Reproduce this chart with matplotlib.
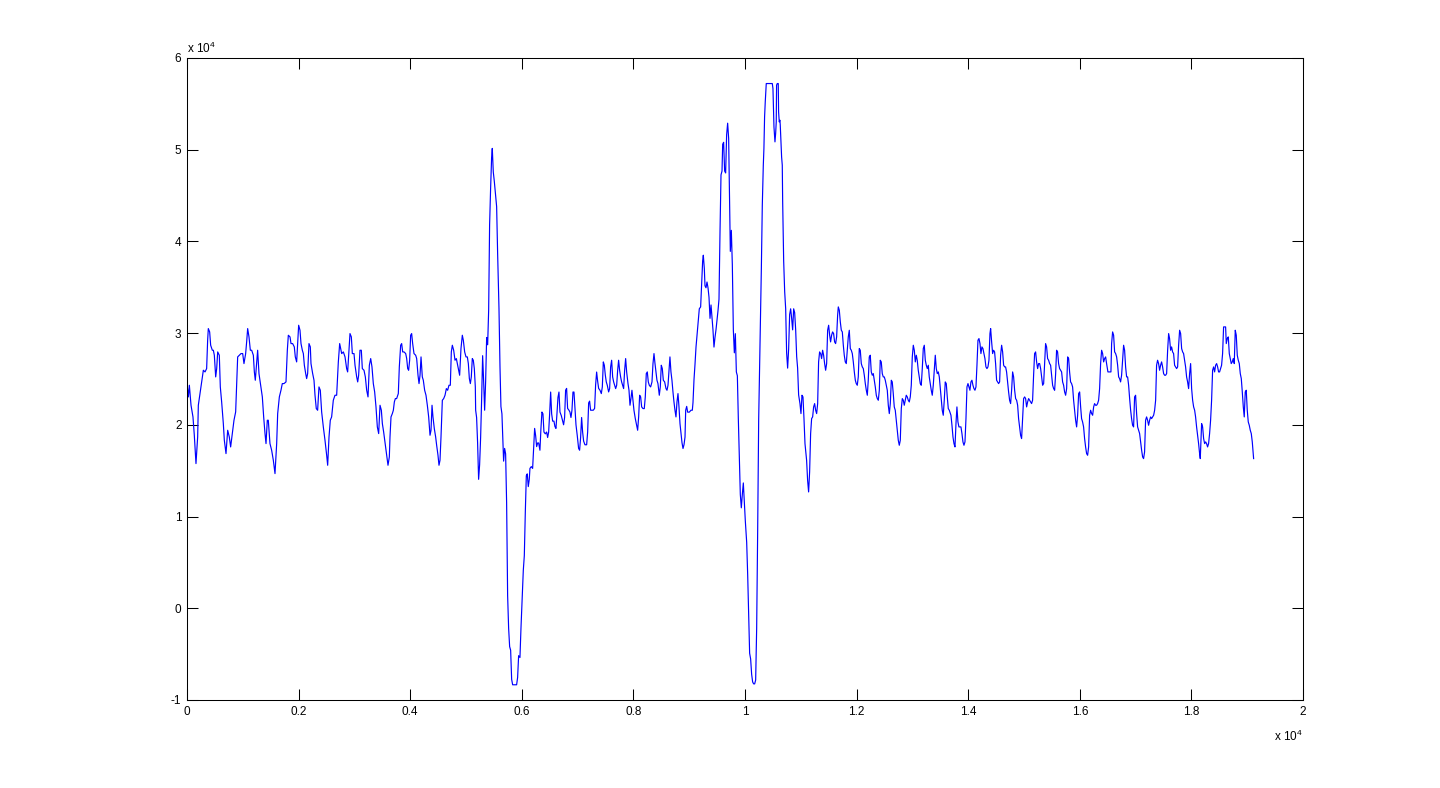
import matplotlib
matplotlib.use('Agg')
import matplotlib.pyplot as plt

plt.rcParams['font.family'] = ['Liberation Sans', 'DejaVu Sans']
plt.rcParams['mathtext.fontset'] = 'custom'
plt.rcParams['mathtext.rm'] = 'Liberation Sans'
plt.rcParams['mathtext.it'] = 'Liberation Sans'

# ---- data (sample index, signal value) ----
sample_index = [
    0, 24, 42, 72, 107, 131, 161, 191, 203, 233, 263, 293, 323, 352, 370, 382, 406, 424, 454, 472,
    490, 514, 532, 550, 579, 597, 621, 651, 669, 699, 729, 758, 782, 812, 842, 872, 890, 908, 938, 968,
    998, 1021, 1051, 1069, 1087, 1111, 1135, 1159, 1189, 1207, 1224, 1242, 1266, 1290, 1320, 1350, 1374, 1398, 1416, 1439,
    1457, 1487, 1517, 1547, 1577, 1607, 1625, 1655, 1684, 1708, 1738, 1774, 1798, 1816, 1846, 1864, 1893, 1923, 1941, 1965,
    1983, 2001, 2025, 2043, 2067, 2085, 2103, 2127, 2144, 2162, 2186, 2210, 2222, 2252, 2276, 2294, 2317, 2341, 2365, 2389,
    2413, 2443, 2473, 2503, 2521, 2545, 2568, 2592, 2622, 2652, 2682, 2712, 2736,
    2772, 2802, 2832, 2861, 2879, 2897, 2921, 2945, 2963, 2993, 3011, 3041, 3059, 3076, 3100, 3124, 3142, 3172, 3196, 3220,
    3244, 3268, 3292, 3315, 3339, 3363, 3387, 3411, 3435, 3459, 3483, 3501, 3524, 3548, 3578, 3602, 3626, 3638, 3656, 3680,
    3698, 3716, 3734, 3757, 3787, 3805, 3829, 3847, 3865, 3889, 3919, 3937, 3955, 3972, 3990, 4008, 4026, 4044, 4068, 4098,
    4116, 4140, 4158, 4176, 4194, 4217, 4235, 4259, 4283, 4307, 4331, 4355, 4373, 4391, 4408, 4432, 4456, 4474, 4498, 4516,
    4534, 4552, 4576, 4600, 4624, 4648, 4671, 4695, 4719, 4737, 4755, 4779, 4803, 4827, 4845, 4863, 4886, 4910, 4934, 4952,
    4976, 5000, 5024, 5042, 5060, 5078, 5095, 5113, 5131, 5149, 5167,
    5173, 5190, 5208, 5226, 5244, 5262, 5280, 5298, 5316, 5334, 5352, 5370, 5388, 5406, 5423, 5441, 5459, 5471, 5489, 5507,
    5525, 5549, 5567, 5591, 5609, 5626, 5644, 5662, 5674, 5692, 5710, 5728, 5746, 5764, 5782, 5800, 5818, 5836, 5907, 5925,
    5943, 5967, 5985, 6009, 6027, 6045, 6063, 6081, 6098, 6116, 6134, 6146, 6170, 6194, 6212, 6230, 6248, 6266, 6284, 6302,
    6325, 6343, 6361, 6379, 6397, 6421, 6445, 6463, 6481, 6499, 6517, 6535, 6553, 6576, 6594, 6612, 6630, 6648, 6666, 6684,
    6708, 6732, 6749, 6767, 6785, 6803, 6821, 6845, 6863, 6881, 6899, 6917, 6935, 6953, 6971, 6994, 7018, 7036, 7054, 7072,
    7090, 7108, 7132, 7162, 7180, 7198, 7215, 7233, 7257, 7281, 7305, 7323, 7341, 7359, 7377, 7401,
    7425, 7443, 7461, 7479, 7497, 7514, 7532, 7556, 7574, 7592, 7610, 7628, 7646, 7664, 7682, 7700, 7718, 7735, 7753, 7771,
    7789, 7807, 7825, 7843, 7861, 7879, 7903, 7921, 7939, 7956, 7974, 7992, 8010, 8034, 8058, 8076, 8094, 8112, 8130, 8148,
    8172, 8195, 8213, 8231, 8249, 8267, 8285, 8309, 8333, 8351, 8369, 8387, 8404, 8422, 8440, 8464, 8482, 8500, 8518, 8536,
    8560, 8584, 8602, 8620, 8637, 8655, 8673, 8691, 8709, 8727, 8745, 8763, 8781, 8799, 8817,
    8835, 8853, 8871, 8889, 8907, 8925, 8937, 8955, 8972, 9002, 9032, 9056, 9068, 9086, 9104, 9122, 9140, 9164, 9181, 9205,
    9223, 9241, 9253, 9271, 9283, 9301, 9319, 9337, 9355, 9373, 9391, 9409, 9426, 9444, 9462, 9480, 9498, 9516, 9534, 9552,
    9570, 9588, 9600, 9617, 9635, 9653, 9671, 9689, 9707, 9725, 9737, 9755, 9773, 9791, 9809, 9827, 9845, 9863, 9880, 9898,
    9916, 9934, 9952, 9970, 9988, 10006, 10030, 10048, 10066, 10083, 10101, 10119, 10137, 10155, 10173, 10191, 10209, 10227, 10245, 10263,
    10275, 10293, 10310,
    10328, 10339, 10351, 10363, 10381, 10430, 10489, 10501, 10519, 10537, 10549, 10560, 10566, 10578, 10596, 10602, 10614, 10626, 10632, 10644,
    10656, 10668,
    10675, 10693, 10711, 10729, 10746, 10764, 10782, 10800, 10818, 10836, 10854, 10872, 10890, 10908, 10926, 10943, 10961,
    10985, 11003, 11021, 11039, 11057, 11075, 11093, 11104, 11122, 11140, 11158, 11176, 11194, 11212, 11230, 11248, 11266, 11284, 11302, 11319,
    11337, 11355, 11373, 11391, 11409, 11427, 11445, 11463, 11481, 11499, 11517, 11534, 11552, 11570, 11588, 11606, 11624, 11642, 11660, 11672,
    11690, 11708, 11726, 11744, 11762, 11779, 11797, 11815, 11833, 11851, 11869, 11887, 11905, 11923, 11941, 11959, 11977, 11994, 12012, 12030,
    12048, 12066, 12084, 12102, 12120, 12138, 12156, 12174, 12192, 12209, 12227, 12245, 12263, 12281, 12299, 12317, 12335, 12353, 12371, 12389,
    12407, 12424, 12442, 12460, 12478, 12496, 12514, 12532, 12550, 12568, 12586, 12604, 12622, 12639, 12657, 12675, 12693, 12711, 12729, 12747,
    12765, 12783, 12801, 12819, 12837, 12854, 12872, 12890, 12908, 12926, 12944, 12962, 12980, 12998, 13016, 13034, 13052, 13070, 13087, 13105,
    13123, 13141, 13159, 13177, 13195, 13213, 13231, 13249, 13267, 13285, 13302, 13320, 13338, 13356, 13374, 13392, 13410, 13428, 13446, 13464,
    13482, 13500, 13518, 13535, 13553, 13571, 13589, 13607, 13625, 13643, 13661,
    13691, 13709, 13727, 13745, 13763, 13781, 13798, 13816, 13834, 13852, 13870, 13888, 13906, 13924, 13942, 13960, 13978, 13996, 14013, 14031,
    14049, 14067, 14085, 14103, 14121, 14139, 14157, 14175, 14193, 14211, 14228, 14246, 14264, 14282, 14300, 14318, 14336, 14354, 14372, 14390,
    14402, 14420, 14438, 14455, 14473, 14491, 14509, 14527, 14545, 14563, 14581, 14599, 14617, 14635, 14653, 14670, 14688, 14706, 14724, 14742,
    14760, 14778, 14796, 14814, 14832, 14850, 14868, 14886, 14903, 14921, 14939, 14957, 14975, 14993, 15011, 15029, 15047, 15065, 15083, 15101,
    15119, 15136, 15154, 15172, 15190, 15208, 15226, 15244, 15262, 15280, 15298, 15316, 15334, 15352, 15369, 15387, 15405, 15423, 15441, 15459,
    15477, 15495, 15513, 15531, 15549, 15567, 15584, 15602, 15620, 15638, 15656, 15674, 15692, 15710, 15728, 15746, 15764, 15782, 15800, 15817,
    15835, 15853, 15871, 15889, 15907, 15925, 15943, 15961, 15979, 15997, 16015, 16032, 16050, 16068, 16086, 16104, 16122, 16140, 16158, 16176,
    16194, 16212, 16230, 16248, 16265, 16283, 16301, 16319, 16337, 16355,
    16373, 16391, 16409, 16427, 16445, 16463, 16480, 16504, 16534, 16558, 16570, 16588, 16606, 16624, 16642, 16660, 16678, 16696, 16713, 16731,
    16749, 16767, 16785, 16803, 16821, 16839, 16857, 16875, 16893, 16911, 16928, 16946, 16964, 16982, 17000, 17018, 17036, 17054, 17072, 17090,
    17108, 17126, 17143, 17161, 17179, 17197, 17215, 17233, 17251, 17269, 17287, 17305, 17323, 17341, 17359, 17376, 17394, 17412, 17430, 17448,
    17466, 17484, 17502, 17520, 17538, 17556, 17574, 17592, 17609, 17627, 17645, 17663, 17681, 17699, 17717, 17735, 17753, 17771, 17789, 17807,
    17825, 17843, 17860, 17878, 17896, 17914, 17932, 17950, 17968, 17986, 18004, 18022, 18040, 18058, 18075, 18093, 18111, 18129, 18147, 18159,
    18171, 18183, 18201, 18219, 18237, 18255, 18272, 18290, 18308, 18326, 18344, 18362, 18380, 18398, 18416, 18434, 18452, 18470, 18487, 18505,
    18523, 18541, 18559, 18577, 18595, 18613, 18625, 18643, 18661, 18679, 18697, 18714, 18732, 18750, 18768, 18786, 18804, 18822, 18840, 18858,
    18876, 18894, 18912, 18930, 18947, 18965, 18983, 19001, 19019, 19037, 19055, 19073, 19091, 19109, 19115,
]

signal = [
    24500, 23046, 24318, 22137, 20865, 18866, 15776, 18684, 22137, 23410, 24682, 25954, 25772, 26136, 29226, 30498, 30134, 28680, 28135, 28135,
    27590, 25227, 26136, 27953, 27590, 24136, 22501, 20138, 18321, 16866, 19411, 18684, 17593, 19048, 20502, 21411, 24318, 27408, 27590, 27772,
    27772, 26681, 27772, 29044, 30498, 29589, 28135, 28135, 27590, 25772, 24864, 26318, 28135, 25590, 24318, 23046, 20865, 19048, 17957, 20502,
    20502, 17957, 17230, 16140, 14686, 17957, 21229, 23046, 23773, 24500, 24500, 24682, 28135, 29771, 29589, 28862, 28862, 28499, 27408, 26863,
    28862, 30861, 30316, 28862, 28135, 27772, 26499, 25590, 25045, 25590, 28862, 28499, 26681, 25590, 24864, 23228, 21774, 21592, 24136, 23773,
    21411, 19775, 18321, 16685, 15594, 18684, 20502, 20865, 22683, 23228, 23228, 26863, 28862,
    27772, 27953, 27408, 26136, 25772, 27590, 29953, 29589, 27772, 27772, 26499, 25227, 24682, 25409, 28135, 28135, 26136, 25954, 25227, 23773,
    23046, 26499, 27227, 26318, 24500, 23591, 21956, 19775, 19048, 22137, 21592, 20138, 19230, 18139, 16866, 15594, 16503, 18684, 20865, 21229,
    21592, 22501, 22864, 22864, 23410, 26318, 28680, 28862, 27953, 27953, 27772, 27227, 26136, 25954, 27045, 29771, 29953, 28862, 27772, 27590,
    27227, 25409, 24500, 25409, 27408, 25227, 24864, 23773, 23228, 22137, 20865, 18866, 19411, 22137, 20865, 19593, 18684, 17775, 16685, 15594,
    16140, 18684, 22683, 22864, 23228, 23955, 23773, 24318, 24318, 27953, 28680, 28135, 27045, 27227, 26681, 26136, 25409, 28317, 29771, 29226,
    27953, 27408, 27408, 26681, 25045, 24500, 25227, 27227, 27045, 26136, 24136,
    21596, 20803, 18027, 14062, 15648, 18622, 22785, 27543, 24768, 21596, 24768, 29526, 28733, 32500, 41817, 45782, 49152, 50144, 47566, 46575,
    45385, 43800, 38645, 32697, 26353, 21992, 21199, 18027, 16045, 17432, 16838, 11485, 1374, -2195, -4177, -4574, -7746, -8340, -8340, -7547,
    -5168, -5366, -2195, 1374, 4150, 5736, 10494, 14459, 14657, 13269, 14062, 15252, 15450, 15252, 17432, 19613, 18820, 17631, 18027, 18027,
    17234, 19613, 21397, 21199, 19217, 19019, 19217, 18622, 19217, 21199, 23578, 21199, 20406, 20406, 19811, 19613, 21199, 22983, 23578, 21397,
    21001, 20406, 20009, 20803, 23777, 23975, 21794, 21596, 21397, 20803, 21596, 23578, 23578, 21794, 20009, 18820, 17432, 17234, 18622, 20803,
    19217, 18226, 17829, 17829, 19217, 22389, 22587, 21596, 21596, 21596, 21794, 24371, 25759, 24768, 23975, 23777,
    23410, 24137, 26863, 26499, 25409, 24682, 24318, 23591, 23955, 26318, 27045, 25227, 24682, 24318, 23955, 24318, 25954, 27045, 25954, 25227,
    24682, 24318, 23955, 25954, 27227, 25772, 24500, 23773, 22137, 22864, 23773, 22683, 21592, 20683, 19956, 19411, 20865, 23228, 23046, 21956,
    21774, 21774, 23046, 25590, 25772, 24682, 24318, 24136, 24682, 26681, 27772, 26681, 25772, 24864, 24500, 23228, 24136, 26499, 26136, 24864,
    24682, 23955, 23773, 24318, 25772, 27408, 25772, 24864, 23591, 22501, 21592, 20865, 22501, 23410, 21956,
    20135, 19092, 18048, 17423, 17840, 18674, 21596, 22013, 21387, 21387, 21596, 21596, 22431, 24935, 26604, 28482, 29733, 31402, 32654, 32863,
    35367, 37870, 38496, 37036, 35158, 34949, 35575, 34949, 33906, 31611, 33072, 31611, 30359, 28482, 29525, 30359, 31402, 32445, 33698, 40999,
    47258, 47675, 50596, 50806, 47675, 47467, 51640, 52892, 51223, 43504, 38914, 41209, 37453, 30359, 27855, 29942, 25769, 25352, 20761, 16588,
    12416, 10955, 12416, 13667, 11581, 9494, 7199, 3652, -730, -4903, -5529, -7198, -8033, -8242, -8242, -7824, -2191, 8451, 20553, 26604,
    30776, 37036, 43921,
    48310, 50127, 53580, 55216, 57215, 57215, 57215, 56670, 52490, 50854, 51762, 53035, 57034, 57215, 57215, 54125, 53035, 53216, 52671, 51035,
    49218, 48310,
    44338, 37870, 34532, 32654, 27855, 26186, 28273, 32028, 32654, 31611, 30359, 32654, 32237, 30359, 27438, 26186, 23265,
    22319, 21229, 23228, 23046, 20684, 17957, 16867, 16140, 13958, 12686, 14867, 19048, 20684, 20865, 21956, 22319, 21593, 21229, 22319, 26863,
    27953, 27771, 27226, 28135, 27590, 26681, 25954, 26681, 30316, 30861, 29771, 29044, 29771, 30134, 29953, 29044, 28862, 29589, 31952, 32861,
    32497, 31225, 30316, 30134, 28680, 27590, 26863, 26681, 28135, 29589, 30316, 28317, 28135, 27771, 26863, 25772, 24864, 24500, 24318, 25227,
    28317, 28135, 26681, 26318, 26136, 25409, 24500, 23773, 23228, 24864, 27408, 27590, 25772, 25409, 25590, 24864, 24136, 23228, 22864, 22683,
    23773, 27045, 26863, 25590, 25227, 25227, 24864, 24318, 23773, 22137, 21229, 22319, 24864, 24682, 23410, 21956, 21593, 20502, 19411, 18321,
    17775, 18321, 21775, 22864, 22683, 22137, 22683, 23228, 23046, 22683, 22501, 23046, 24318, 27408, 28680, 28135, 26863, 27590, 27045, 25954,
    25227, 24500, 24318, 26136, 28317, 28680, 27045, 26499, 26136, 26499, 25227, 24500, 23773, 23228, 24318, 25954, 27590, 26136, 25590, 25772,
    25227, 23955, 22683, 21593, 21047, 22683, 24682, 24500, 23046, 21775, 21593,
    21047, 19956, 18684, 17957, 17594, 20138, 21956, 20320, 19775, 19775, 19775, 19048, 18139, 17775, 18139, 20683, 24136, 24500, 24136, 23773,
    24682, 24864, 24318, 23955, 23773, 24136, 26499, 29226, 29408, 28862, 27772, 28499, 28317, 27772, 27227, 26318, 26136, 26318, 27045, 29952,
    30498, 29044, 27772, 28135, 27953, 26681, 24864, 24682, 24500, 24682, 27590, 28680, 27953, 26499, 26318, 26318, 25772, 24682, 23591, 22683,
    22319, 23773, 25772, 25227, 23773, 22864, 22683, 22137, 20683, 19775, 18866, 18503, 20683, 22864, 23046, 22864, 21956, 22501, 22864, 22683,
    22501, 22319, 22683, 25409, 27772, 27953, 26863, 26136, 26681, 26681, 26136, 25227, 24318, 24500, 26681, 28862, 28499, 27227, 27045, 26681,
    26499, 25409, 24318, 23955, 23773, 25590, 28135, 27953, 26681, 26136, 25954, 25772, 24682, 24318, 23591, 23228, 23955, 27408, 27227, 25772,
    24682, 24500, 24136, 22683, 21592, 20502, 19775, 21047, 23410, 23591, 21956, 20683, 20320, 19775, 18503, 17594, 16867, 16685, 17594, 21047,
    21592, 21229, 21047, 21956, 22319, 22137, 22137, 22319, 22683, 23955,
    26681, 28135, 27772, 26863, 27227, 27408, 26681, 25772, 25772, 25772, 28862, 30134, 29771, 27953, 27772, 27408, 26499, 25227, 25045, 24682,
    25409, 27045, 28680, 28135, 26318, 25227, 25227, 24318, 22864, 21592, 20683, 19956, 19775, 23046, 23228, 21229, 19775, 19411, 19048, 18139,
    17230, 16503, 16321, 17048, 20502, 20865, 20502, 19956, 20502, 20865, 20683, 20865, 21047, 21592, 22683, 26499, 27045, 26681, 25954, 26499,
    26863, 26318, 25590, 25409, 25409, 25590, 28135, 29953, 29408, 28135, 28499, 27953, 27772, 26499, 26318, 26136, 26318, 28680, 30316, 29953,
    28317, 27953, 27772, 27045, 26318, 25227, 24682, 23955, 25590, 26681, 23955, 22683, 21956, 21592, 20865, 19775, 18866, 17957, 16867, 16321,
    18139, 20138, 19775, 18503, 17957, 18139, 17957, 17594, 17957, 19048, 20502, 22683, 25954, 26318, 25772, 26499, 26681, 26318, 25772, 25772,
    26136, 26499, 27772, 30679, 30679, 30679, 28862, 29408, 29589, 27772, 27227, 26681, 26863, 27227, 26681, 30316, 29771, 27590, 27045, 26681,
    25590, 25045, 23591, 21956, 20865, 23591, 23773, 21592, 20320, 19956, 19411, 19048, 18139, 16867, 16321,
]

x_ticks = [0, 2000, 4000, 6000, 8000, 10000, 12000, 14000, 16000, 18000, 20000]
x_tick_labels = ['0', '0.2', '0.4', '0.6', '0.8', '1', '1.2', '1.4', '1.6', '1.8', '2']
y_ticks = [-10000, 0, 10000, 20000, 30000, 40000, 50000, 60000]
y_tick_labels = ['-1', '0', '1', '2', '3', '4', '5', '6']
exponent_label = 'x 10$^{4}$'

# ---- figure ----
fig = plt.figure(figsize=(14.4, 7.88), dpi=100)
fig.patch.set_facecolor('white')
ax = fig.add_axes([187 / 1440, 88 / 788, 1116 / 1440, 642 / 788])
ax.plot(sample_index, signal, color='#0000ff', linewidth=0.85)

ax.set_xlim(0, 20000)
ax.set_ylim(-10000, 60000)
ax.set_xticks(x_ticks)
ax.set_xticklabels(x_tick_labels)
ax.set_yticks(y_ticks)
ax.set_yticklabels(y_tick_labels)
ax.tick_params(direction='in', length=7.7, width=0.75, top=True, right=True,
               labelsize=8.5, pad=4, colors='black')
for sp in ax.spines.values():
    sp.set_linewidth(0.75)
    sp.set_color('black')

ax.text(0.0, 1.008, exponent_label, transform=ax.transAxes, ha='left',
        va='baseline', fontsize=8.5)
ax.text(1.0, -0.064, exponent_label, transform=ax.transAxes, ha='right',
        va='baseline', fontsize=8.5)

fig.savefig('out.png', dpi=100, facecolor='white')
